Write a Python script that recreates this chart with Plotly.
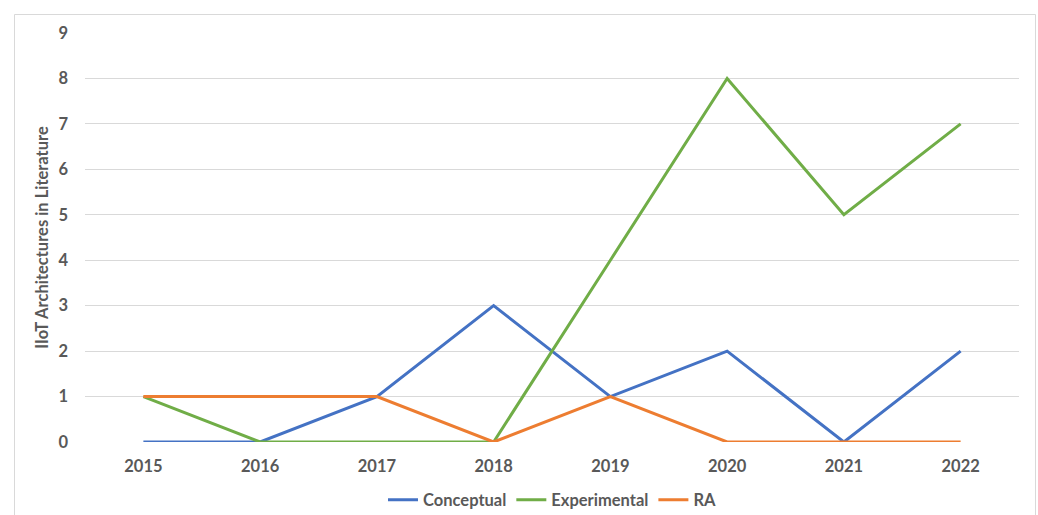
import plotly.graph_objects as go

# Data
years = ["2015", "2016", "2017", "2018", "2019", "2020", "2021", "2022"]
conceptual = [0, 0, 1, 3, 1, 2, 0, 2]
experimental = [1, 0, 0, 0, 4, 8, 5, 7]
ra = [1, 1, 1, 0, 1, 0, 0, 0]
y_ticks = list(range(0, 10))

FONT = "Lato"
TEXT = "#595959"

series = [
    ("Conceptual", conceptual, "#4472C4"),
    ("Experimental", experimental, "#70AD47"),
    ("RA", ra, "#ED7D31"),
]

fig = go.Figure()
for name, vals, color in series:
    fig.add_trace(go.Scatter(
        x=years, y=vals, name=name, mode="lines",
        line=dict(color=color, width=3),
    ))

W, H = 1038, 515
L, R, T, B = 85, 19, 33, 73
ph = H - T - B
pw = W - L - R
bottom_px = T + ph  # pixel row of the x axis

fig.update_layout(
    width=W, height=H,
    margin=dict(l=L, r=R, t=T, b=B, autoexpand=False),
    paper_bgcolor="white", plot_bgcolor="white",
    font=dict(family=FONT, color=TEXT, size=16),
    showlegend=True,
    legend=dict(
        orientation="h", x=0.5, xanchor="center",
        y=(bottom_px - 500) / ph, yanchor="middle",
        font=dict(family=FONT, size=16.5, color=TEXT, weight="bold"),
        itemwidth=30, tracegroupgap=0,
    ),
    xaxis=dict(
        type="category", range=[-0.5, 7.5],
        showgrid=False, zeroline=False, showline=False,
        ticks="", ticklabelstandoff=12,
        tickfont=dict(family=FONT, size=16.5, color=TEXT, weight="bold"),
    ),
    yaxis=dict(
        range=[0, 9], tickvals=y_ticks,
        showgrid=True, gridcolor="#D9D9D9", gridwidth=1,
        zeroline=False, showline=False, ticks="",
        ticklabelstandoff=16,
        tickfont=dict(family=FONT, size=16.5, color=TEXT, weight="bold"),
        title=dict(text="IIoT Architectures in Literature", standoff=5,
                   font=dict(family=FONT, size=16.5, color=TEXT, weight="bold")),
    ),
    shapes=[dict(
        type="rect", xref="paper", yref="paper",
        x0=(14.5 - L) / pw, x1=(1035.5 - L) / pw,
        y0=-(H - bottom_px + 10) / ph, y1=(bottom_px - 14.5) / ph,
        line=dict(color="#D9D9D9", width=1), fillcolor="rgba(0,0,0,0)",
        layer="below",
    )],
)

fig.write_html("out.html")
